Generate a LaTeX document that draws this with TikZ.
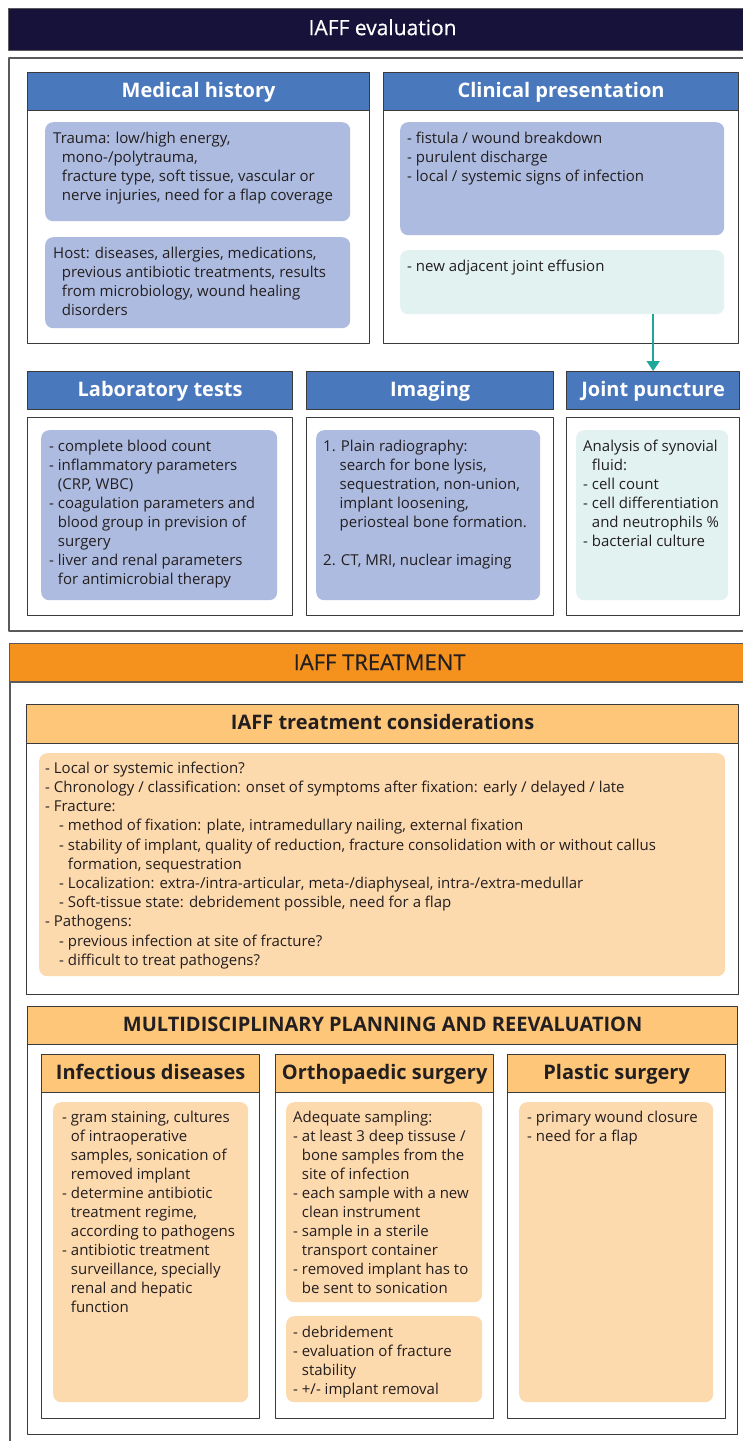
\documentclass[tikz,border=0pt]{standalone}
\usepackage{fontspec}
\setmainfont{Open Sans}
\newfontfamily\bannerfam[FakeBold=0.5]{Open Sans}
\usepackage{tikz}
\usetikzlibrary{arrows.meta}

\definecolor{navy}{HTML}{17123A}
\definecolor{headblue}{HTML}{4A78BC}
\definecolor{boxblue}{HTML}{ADBBE0}
\definecolor{boxteal}{HTML}{E2F2F0}
\definecolor{arrowteal}{HTML}{1FA89A}
\definecolor{orange}{HTML}{F5921E}
\definecolor{headorange}{HTML}{FDC679}
\definecolor{cream}{HTML}{FDD9AE}
\definecolor{framegray}{HTML}{3A3A3A}
\definecolor{outergray}{HTML}{5A5A5A}
\definecolor{textdark}{HTML}{231F20}

\newcommand{\bodyfont}{\fontsize{15}{19}\selectfont}
\newcommand{\headfont}{\fontsize{20}{24}\selectfont\bfseries}
\newcommand{\hang}{\hphantom{-\ }}
\newcommand{\num}{\hphantom{1.\ }}
\newcommand{\sub}{\hspace*{14pt}}

\begin{document}
\begin{tikzpicture}[x=1pt,y=-1pt,line join=round,
  outer/.style={draw=outergray,line width=1.5pt,fill=white,anchor=north west,inner sep=0},
  banner/.style={draw=outergray,line width=1.2pt,anchor=north west,inner sep=0,minimum height=42,text height=15pt,text depth=4pt},
  frame/.style={draw=framegray,line width=1.3pt,fill=white,anchor=north west,inner sep=0},
  bhead/.style={frame,fill=headblue,text=white,font=\headfont,minimum height=38,text height=15pt,text depth=4pt},
  ohead/.style={frame,fill=headorange,text=textdark,font=\headfont,minimum height=38,text height=15pt,text depth=4pt},
  bluebox/.style={fill=boxblue,rounded corners=8pt,anchor=north west,inner sep=0},
  tealbox/.style={fill=boxteal,rounded corners=8pt,anchor=north west,inner sep=0},
  creambox/.style={fill=cream,rounded corners=8pt,anchor=north west,inner sep=0},
  txt/.style={font=\bodyfont,text=textdark,align=left,anchor=north west,yshift=11.4pt,inner sep=0}]
\useasboundingbox (0,0) rectangle (743,1441);
\clip (0,0) rectangle (743,1441);

% evaluation
\node[banner,fill=navy,text=white,minimum width=748,font=\bannerfam\fontsize{21}{24}\selectfont] (evalhead) at (8,8) {IAFF evaluation};
\node[outer,minimum width=748,minimum height=573] (evalframe) at (8,57) {};

\node[bhead,minimum width=342] (medhead) at (27,72) {Medical history};
\node[frame,minimum width=342,minimum height=233] (medbox) at (27,110) {};
\node[bluebox,minimum width=305,minimum height=99] (trauma) at (45,122) {};
\node[bluebox,minimum width=305,minimum height=91] (host) at (45,237) {};
\node[txt] (traumatext) at (53,143) {Trauma: low/high energy,\\
\hang mono-/polytrauma,\\
\hang fracture type, soft tissue, vascular or\\
\hang nerve injuries, need for a flap coverage};
\node[txt] (hosttext) at (53,258) {Host: diseases, allergies, medications,\\
\hang previous antibiotic treatments, results\\
\hang from microbiology, wound healing\\
\hang disorders};

\node[bhead,minimum width=355] (clinhead) at (383,72) {Clinical presentation};
\node[frame,minimum width=355,minimum height=233] (clinbox) at (383,110) {};
\node[bluebox,minimum width=324,minimum height=113] (signs) at (400,122) {};
\node[tealbox,minimum width=324,minimum height=64] (effusion) at (400,250) {};
\node[txt] (signstext) at (407,143) {- fistula / wound breakdown\\
- purulent discharge\\
- local / systemic signs of infection};
\node[txt] (effusiontext) at (407,271) {- new adjacent joint effusion};

\node[bhead,minimum width=265] (labhead) at (27,371) {Laboratory tests};
\node[frame,minimum width=265,minimum height=198] (labbox) at (27,417) {};
\node[bluebox,minimum width=236,minimum height=170] (labtests) at (41,430) {};
\node[txt] (labtext) at (49,451) {- complete blood count\\
- inflammatory parameters\\
\hang (CRP, WBC)\\
- coagulation parameters and\\
\hang blood group in prevision of\\
\hang surgery\\
- liver and renal parameters\\
\hang for antimicrobial therapy};

\node[bhead,minimum width=247] (imghead) at (306,371) {Imaging};
\node[frame,minimum width=247,minimum height=198] (imgbox) at (306,417) {};
\node[bluebox,minimum width=224,minimum height=170] (imgitems) at (316,430) {};
\node[txt] (imgtext) at (323,451) {1. Plain radiography:\\
\num search for bone lysis,\\
\num sequestration, non-union,\\
\num implant loosening,\\
\num periosteal bone formation.\\[19pt]
2. CT, MRI, nuclear imaging};

\node[bhead,minimum width=173] (jointhead) at (566,371) {Joint puncture};
\node[frame,minimum width=173,minimum height=198] (jointbox) at (566,417) {};
\node[tealbox,minimum width=152,minimum height=170] (synovial) at (576,430) {};
\node[txt] (synovialtext) at (583,451) {Analysis of synovial\\
\hang fluid:\\
- cell count\\
- cell differentiation\\
\hang and neutrophils \%\\
- bacterial culture};

\draw[arrowteal,line width=1.5pt,-{Triangle[width=13pt,length=10pt]}] (effusion.south -| jointhead.north) -- (jointhead.north);

% treatment
\node[banner,fill=orange,text=textdark,minimum width=740,font=\bannerfam\fontsize{22}{24}\selectfont] (treathead) at (9,643) {IAFF TREATMENT};
\node[outer,minimum width=740,minimum height=820] (treatframe) at (9,681) {};

\node[ohead,minimum width=712,minimum height=39] (conshead) at (26,704) {IAFF treatment considerations};
\node[frame,minimum width=712,minimum height=251] (consbox) at (26,743) {};
\node[creambox,minimum width=686,minimum height=223] (consitems) at (39,753) {};
\node[txt,font=\fontsize{15}{19.2}\selectfont] (constext) at (45,773) {- Local or systemic infection?\\
- Chronology / classification: onset of symptoms after fixation: early / delayed / late\\
- Fracture:\\
\sub- method of fixation: plate, intramedullary nailing, external fixation\\
\sub- stability of implant, quality of reduction, fracture consolidation with or without callus\\
\sub\hang formation, sequestration\\
\sub- Localization: extra-/intra-articular, meta-/diaphyseal, intra-/extra-medullar\\
\sub- Soft-tissue state: debridement possible, need for a flap\\
- Pathogens:\\
\sub- previous infection at site of fracture?\\
\sub- difficult to treat pathogens?};

\node[ohead,minimum width=710] (multihead) at (27,1006) {MULTIDISCIPLINARY PLANNING AND REEVALUATION};
\node[frame,minimum width=710,minimum height=390] (multibox) at (27,1044) {};

\node[ohead,minimum width=218] (infhead) at (41,1054) {Infectious diseases};
\node[frame,minimum width=218,minimum height=326] (infbox) at (41,1092) {};
\node[creambox,minimum width=195,minimum height=300] (infitems) at (53,1102) {};
\node[txt] (inftext) at (62,1122) {- gram staining, cultures\\
\hang of intraoperative\\
\hang samples, sonication of\\
\hang removed implant\\
- determine antibiotic\\
\hang treatment regime,\\
\hang according to pathogens\\
- antibiotic treatment\\
\hang surveillance, specially\\
\hang renal and hepatic\\
\hang function};

\node[ohead,minimum width=218] (orthohead) at (275,1054) {Orthopaedic surgery};
\node[frame,minimum width=218,minimum height=326] (orthobox) at (275,1092) {};
\node[creambox,minimum width=196,minimum height=200] (sampling) at (286,1102) {};
\node[creambox,minimum width=196,minimum height=86] (surgery) at (286,1316) {};
\node[txt] (samplingtext) at (293,1122) {Adequate sampling:\\
- at least 3 deep tissuse /\\
\hang bone samples from the\\
\hang site of infection\\
- each sample with a new\\
\hang clean instrument\\
- sample in a sterile\\
\hang transport container\\
- removed implant has to\\
\hang be sent to sonication};
\node[txt] (surgerytext) at (293,1337) {- debridement\\
- evaluation of fracture\\
\hang stability\\
- +/- implant removal};

\node[ohead,minimum width=218] (plashead) at (507,1054) {Plastic surgery};
\node[frame,minimum width=218,minimum height=326] (plasbox) at (507,1092) {};
\node[creambox,minimum width=194,minimum height=300] (wound) at (519,1102) {};
\node[txt] (woundtext) at (527,1122) {- primary wound closure\\
- need for a flap};
\end{tikzpicture}
\end{document}
